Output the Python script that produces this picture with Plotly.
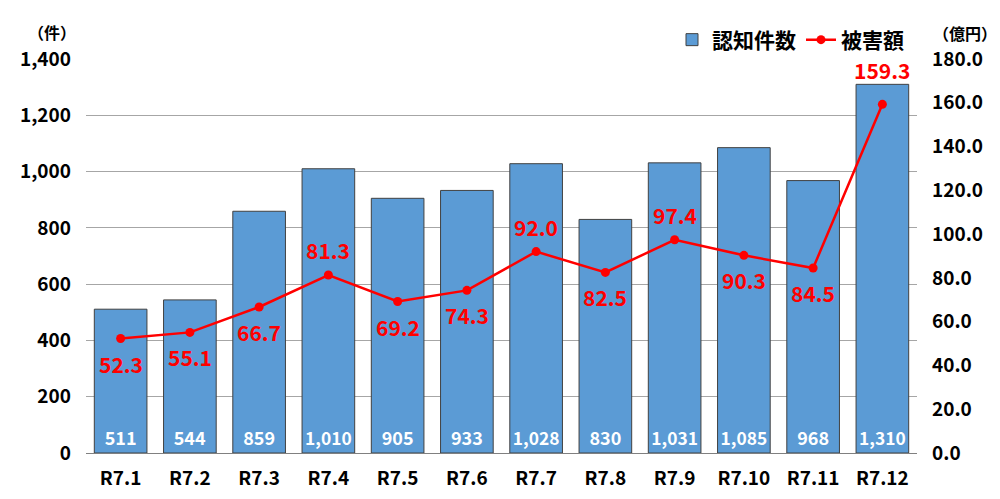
import plotly.graph_objects as go

months = ["R7.1", "R7.2", "R7.3", "R7.4", "R7.5", "R7.6", "R7.7", "R7.8", "R7.9", "R7.10", "R7.11", "R7.12"]
cases = [511, 544, 859, 1010, 905, 933, 1028, 830, 1031, 1085, 968, 1310]
damage = [52.3, 55.1, 66.7, 81.3, 69.2, 74.3, 92.0, 82.5, 97.4, 90.3, 84.5, 159.3]
# label placement (style): pixel shift of each damage label from its point
damage_label_shift = [-25, -25, -25, 25, -25, -25, 25, -25, 25, -25, -25, 34]

FONT = "Noto Sans CJK JP"

# page body adds an 8px offset; the figure is sized so the plot lands where the reference has it
L, R, T, B = 78, 83, 51, 46
W, H = 992, 491
pw = W - L - R
ph = H - T - B

fig = go.Figure()
fig.add_trace(go.Bar(
    x=months, y=cases, name="認知件数",
    marker=dict(color="#5B9BD5", line=dict(color="#404040", width=1)),
    text=[f"{v:,}" for v in cases], textposition="inside", insidetextanchor="start",
    textfont=dict(color="white", size=18, family=FONT, weight="bold"), textangle=0,
    cliponaxis=False,
))
fig.add_trace(go.Scatter(
    x=months, y=damage, name="被害額", yaxis="y2", mode="lines+markers",
    line=dict(color="#FF0000", width=2.5), marker=dict(color="#FF0000", size=9),
    cliponaxis=False,
))

annotations = [
    dict(x=m, y=v, xref="x", yref="y2", text=f"{v:.1f}", showarrow=False,
         yshift=s, xanchor="center", yanchor="middle",
         font=dict(color="#FF0000", size=21, family=FONT, weight="bold"))
    for m, v, s in zip(months, damage, damage_label_shift)
]
annotations += [
    dict(text="（件）", x=(52 - 86) / pw, y=(453 - 32) / ph, xref="paper", yref="paper",
         xanchor="center", yanchor="middle",
         showarrow=False, font=dict(size=16, family=FONT, weight="bold")),
    dict(text="（億円）", x=(965 - 86) / pw, y=(453 - 33) / ph, xref="paper", yref="paper",
         xanchor="center", yanchor="middle",
         showarrow=False, font=dict(size=16, family=FONT, weight="bold")),
]

fig.update_layout(
    width=W, height=H,
    margin=dict(l=L, r=R, t=T, b=B, autoexpand=False),
    plot_bgcolor="white", paper_bgcolor="white",
    font=dict(family=FONT, color="black", size=18),
    bargap=0.24,
    showlegend=True,
    legend=dict(orientation="h", x=1 - 8 / pw, xanchor="right", y=1.0 + 19 / ph, yanchor="middle",
                font=dict(size=21, family=FONT, weight="bold"), bgcolor="rgba(0,0,0,0)",
                traceorder="normal", itemwidth=30, tracegroupgap=0),
    xaxis=dict(range=[-0.5, len(months) - 0.5], showgrid=False, showline=True,
               linecolor="#808080", linewidth=1, ticklabelstandoff=8,
               tickfont=dict(size=19, family=FONT, weight="bold"), ticks="", automargin=False),
    yaxis=dict(range=[0, 1400], dtick=200, tickformat=",d", showgrid=True,
               gridcolor="#A6A6A6", gridwidth=1, zeroline=False, ticks="",
               ticklabelstandoff=14, automargin=False,
               tickfont=dict(size=19, family=FONT, weight="bold")),
    yaxis2=dict(range=[0, 180], dtick=20, tickformat=".1f", overlaying="y", side="right",
                showgrid=False, zeroline=False, ticks="", ticklabelstandoff=14, automargin=False,
                tickfont=dict(size=19, family=FONT, weight="bold")),
    annotations=annotations,
)

fig.write_html("out.html")
